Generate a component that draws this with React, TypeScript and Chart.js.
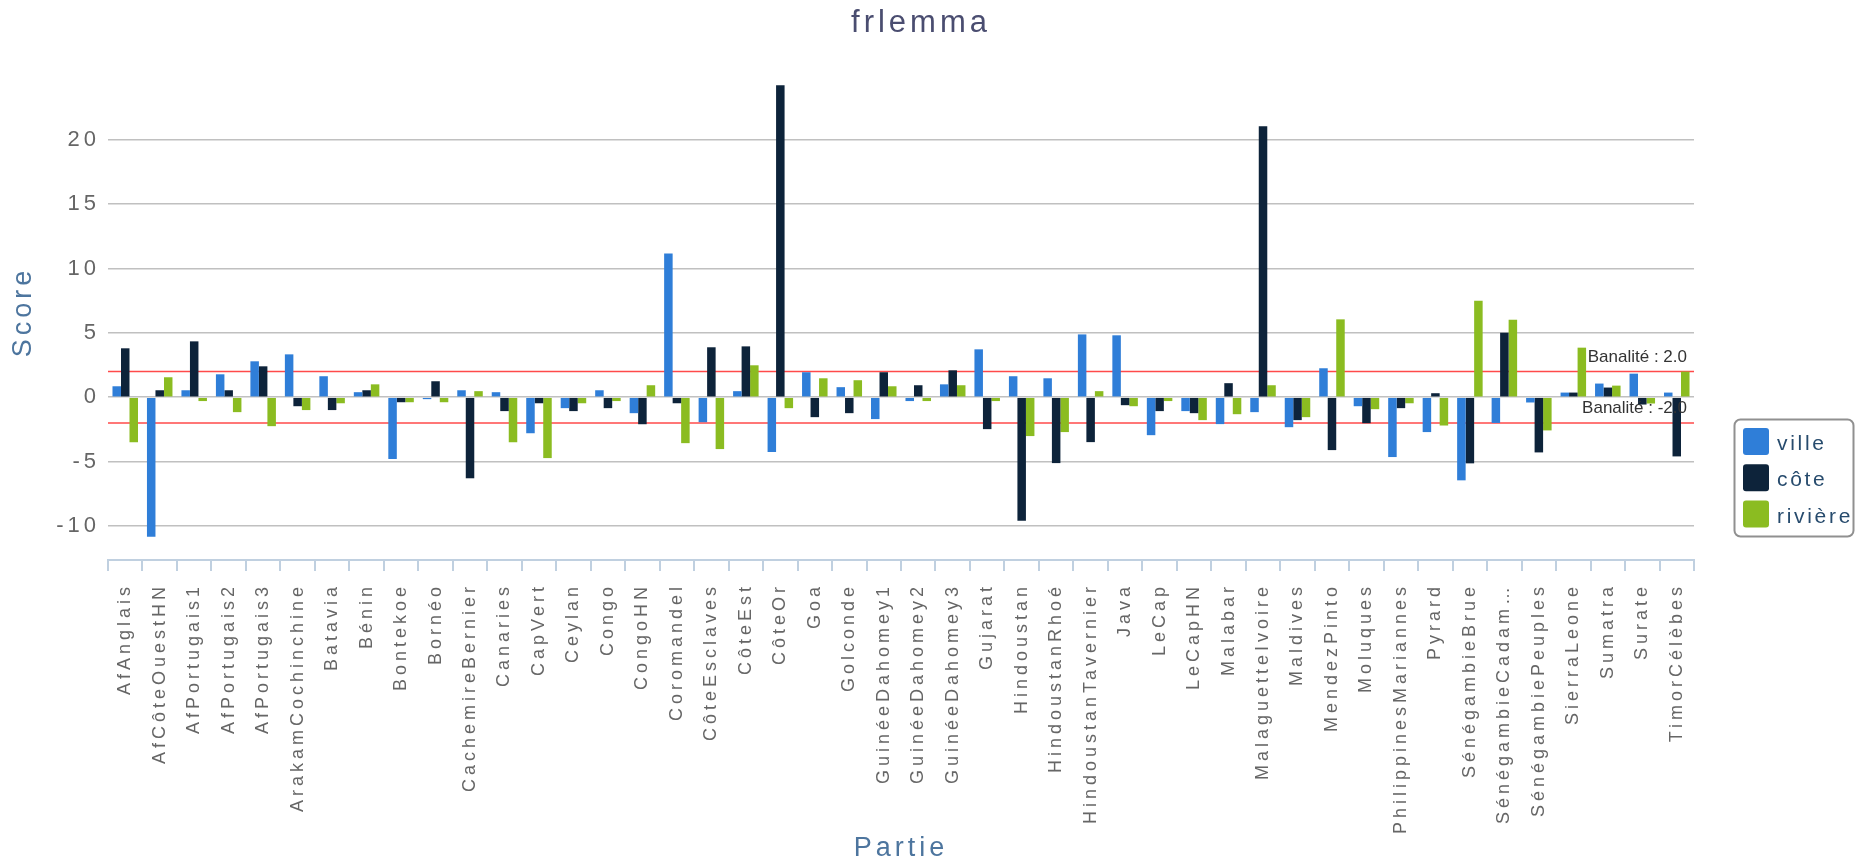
import React, { useEffect, useRef } from "react";
import { Chart, registerables } from "chart.js";

Chart.register(...registerables);

const FONT = "'Liberation Sans', Arial, sans-serif";

const categories = [
  "AfAnglais", "AfCôteOuestHN", "AfPortugais1", "AfPortugais2", "AfPortugais3",
  "ArakamCochinchine", "Batavia", "Bénin", "Bontekoe", "Bornéo",
  "CachemireBernier", "Canaries", "CapVert", "Ceylan", "Congo",
  "CongoHN", "Coromandel", "CôteEsclaves", "CôteEst", "CôteOr",
  "Goa", "Golconde", "GuinéeDahomey1", "GuinéeDahomey2", "GuinéeDahomey3",
  "Gujarat", "Hindoustan", "HindoustanRhoé", "HindoustanTavernier", "Java",
  "LeCap", "LeCapHN", "Malabar", "MalaguetteIvoire", "Maldives",
  "MendezPinto", "Moluques", "PhilippinesMariannes", "Pyrard", "SénégambieBrue",
  "SénégambieCadam…", "SénégambiePeuples", "SierraLeone", "Sumatra", "Surate",
  "TimorCélèbes",
];

const ville = [
  0.85, -10.85, 0.54, 1.78, 2.79,
  3.33, 1.63, 0.39, -4.8, -0.15,
  0.54, 0.39, -2.8, -0.85, 0.54,
  -1.24, 11.16, -1.94, 0.47, -4.26,
  1.94, 0.78, -1.7, -0.3, 1.0,
  3.72, 1.63, 1.47, 4.88, 4.81,
  -2.95, -1.08, -2.09, -1.16, -2.33,
  2.25, -0.7, -4.65, -2.71, -6.46,
  -2.0, -0.41, 0.36, 1.06, 1.83,
  0.36,
];

const cote = [
  3.8, 0.54, 4.34, 0.54, 2.4,
  -0.7, -1.0, 0.54, -0.39, 1.24,
  -6.3, -1.08, -0.47, -1.08, -0.85,
  -2.1, -0.47, 3.88, 3.95, 24.24,
  -1.55, -1.24, 1.94, 0.93, 2.09,
  -2.48, -9.6, -5.12, -3.49, -0.62,
  -1.08, -1.24, 1.09, 21.06, -1.78,
  -4.11, -2.02, -0.85, 0.31, -5.14,
  5.01, -4.29, 0.36, 0.75, -0.57,
  -4.6,
];

const riviere = [
  -3.5, 1.55, -0.3, -1.16, -2.25,
  -1.0, -0.47, 1.0, -0.39, -0.39,
  0.47, -3.5, -4.73, -0.47, -0.3,
  0.93, -3.57, -4.03, 2.48, -0.85,
  1.47, 1.32, 0.85, -0.3, 0.93,
  -0.3, -3.02, -2.71, 0.47, -0.7,
  -0.3, -1.78, -1.32, 0.93, -1.55,
  6.05, -0.93, -0.47, -2.2, 7.49,
  6.02, -2.58, 3.85, 0.9, -0.49,
  1.99,
];

const seriesNames = ["ville", "côte", "rivière"];
const seriesColors = ["#2f7ed8", "#0d233a", "#8bbc21"];
const banaliteLevels = [2, -2];

// canvas letter spacing is reset whenever the canvas is resized, so set it before layout and draw
const spacingPlugin = {
  id: "spacing",
  beforeUpdate(chart) {
    chart.ctx.letterSpacing = "4px";
  },
  beforeDraw(chart) {
    chart.ctx.letterSpacing = "4px";
  },
};

const banalitePlugin = {
  id: "banalite",
  beforeDatasetsDraw(chart) {
    const { ctx, chartArea, scales } = chart;
    ctx.save();
    ctx.strokeStyle = "#ff4a4a";
    ctx.lineWidth = 1.5;
    banaliteLevels.forEach((v) => {
      const y = scales.y.getPixelForValue(v);
      ctx.beginPath();
      ctx.moveTo(chartArea.left, y);
      ctx.lineTo(chartArea.right, y);
      ctx.stroke();
    });
    ctx.restore();
  },
  afterDatasetsDraw(chart) {
    const { ctx, chartArea, scales } = chart;
    ctx.save();
    ctx.letterSpacing = "0px";
    ctx.font = `17px ${FONT}`;
    ctx.fillStyle = "#333333";
    ctx.textAlign = "right";
    ctx.textBaseline = "alphabetic";
    banaliteLevels.forEach((v) => {
      const y = scales.y.getPixelForValue(v);
      ctx.fillText(`Banalité : ${v.toFixed(1)}`, chartArea.right - 7, y - 9.5);
    });
    ctx.restore();
  },
};

const boxLegendPlugin = {
  id: "boxLegend",
  afterDraw(chart) {
    const { ctx, chartArea } = chart;
    const x = chartArea.right + 40;
    const y = 419;
    ctx.save();
    ctx.letterSpacing = "2.7px";
    ctx.beginPath();
    ctx.roundRect(x + 0.5, y + 0.5, 119, 117, 6);
    ctx.fillStyle = "#ffffff";
    ctx.fill();
    ctx.strokeStyle = "#909090";
    ctx.lineWidth = 2;
    ctx.stroke();
    ctx.font = `21px ${FONT}`;
    ctx.textAlign = "left";
    ctx.textBaseline = "alphabetic";
    chart.data.datasets.forEach((ds, i) => {
      const top = y + 9 + i * 36.3;
      ctx.beginPath();
      ctx.roundRect(x + 9, top, 26, 27, 3);
      ctx.fillStyle = ds.backgroundColor as string;
      ctx.fill();
      ctx.fillStyle = "#274b6d";
      ctx.fillText(ds.label as string, x + 43, top + 22);
    });
    ctx.restore();
  },
};

export default function App() {
  const canvasRef = useRef<HTMLCanvasElement>(null);

  useEffect(() => {
    Chart.defaults.font.family = FONT;
    const chart = new Chart(canvasRef.current!, {
      type: "bar",
      data: {
        labels: categories,
        datasets: [ville, cote, riviere].map((values, i) => ({
          label: seriesNames[i],
          data: values,
          backgroundColor: seriesColors[i],
          categoryPercentage: 0.74,
          barPercentage: 1.0,
        })),
      },
      options: {
        animation: false,
        responsive: false,
        devicePixelRatio: 1,
        layout: { padding: { left: 0, right: 14, top: 0, bottom: 0 } },
        plugins: {
          legend: { display: false },
          tooltip: { enabled: false },
          title: {
            display: true,
            text: "frlemma",
            color: "#4a4d70",
            font: { family: FONT, size: 31, weight: "normal", lineHeight: 1.2 },
            padding: { top: 5, bottom: 21.7 },
          },
        },
        scales: {
          x: {
            grid: {
              drawOnChartArea: false,
              color: "#C0D0E0",
              lineWidth: 2,
              tickLength: 11,
              offset: true,
            },
            border: { color: "#C0D0E0", width: 2 },
            ticks: {
              autoSkip: false,
              minRotation: 90,
              maxRotation: 90,
              color: "#666666",
              font: { family: FONT, size: 18 },
              padding: 12,
            },
            title: {
              display: true,
              text: "Partie",
              color: "#4d759e",
              font: { family: FONT, size: 27 },
              padding: { top: 0, bottom: 0 },
            },
            afterFit: (s) => {
              s.height = 305;
            },
          },
          y: {
            min: -12.65,
            max: 25.9,
            ticks: {
              stepSize: 5,
              color: "#666666",
              font: { family: FONT, size: 22 },
              padding: 8,
            },
            afterBuildTicks: (s) => {
              s.ticks = s.ticks.filter(
                (t) => Math.abs(t.value % 5) < 1e-6 && t.value <= 20
              );
            },
            grid: { color: "#C0C0C0", lineWidth: 1.5, drawTicks: false },
            border: { display: false },
            title: {
              display: true,
              text: "Score",
              color: "#4d759e",
              font: { family: FONT, size: 27 },
              padding: { top: 7.6, bottom: 0 },
            },
            afterFit: (s) => {
              s.width = 108;
            },
          },
          legendSpace: {
            type: "linear",
            position: "right",
            display: true,
            ticks: { display: false },
            grid: { display: false },
            border: { display: false },
            afterFit: (s) => {
              s.width = 148;
            },
          },
        },
      },
      plugins: [spacingPlugin, banalitePlugin, boxLegendPlugin],
    });
    return () => {
      chart.destroy();
    };
  }, []);

  return (
    <div style={{ position: "absolute", left: 0, top: 0, width: 1856, height: 865 }}>
      <canvas ref={canvasRef} width={1856} height={865} />
    </div>
  );
}
